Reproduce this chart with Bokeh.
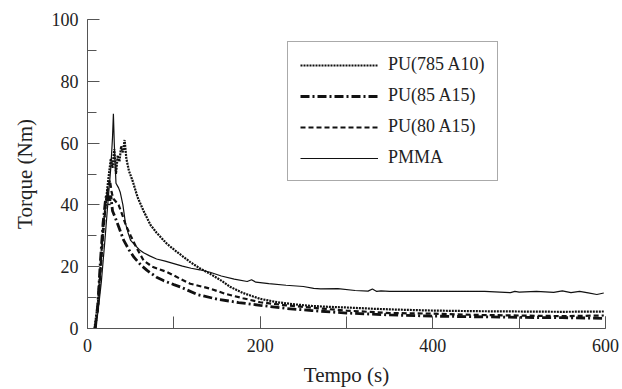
from bokeh.plotting import figure
from bokeh.models import Range1d, SingleIntervalTicker, Legend, LegendItem
from bokeh.embed import file_html
from bokeh.resources import INLINE

# PU(785 A10) - dotted
t_pu785 = [8, 12, 15, 18, 21, 24, 27, 29, 31, 33, 35, 37, 39, 41, 43, 45, 48, 52, 58, 65, 73, 80, 92, 104, 119,
           130, 142, 155, 165, 180, 200, 220, 240, 260, 280, 300, 330, 360, 400, 450, 500, 550, 598]
y_pu785 = [0, 8, 20, 32, 40, 48, 55, 52, 58, 50, 56, 54, 59, 57, 61, 55, 51, 48, 42.5, 38, 33.5, 31, 27.4, 24.7, 21.5,
           19.5, 17.7, 15.5, 13.5, 11.5, 9.6, 8.5, 7.8, 7.3, 7.0, 6.8, 6.4, 6.1, 5.8, 5.6, 5.5, 5.4, 5.5]

# PU(85 A15) - dash-dot
t_pu85 = [9, 12, 15, 18, 21, 23, 25, 27, 29, 32, 36, 42, 48, 54, 62, 69, 80, 88, 100, 108, 127, 150, 175, 200,
          230, 260, 300, 350, 400, 450, 500, 550, 598]
y_pu85 = [0, 8, 22, 34, 42, 44, 40, 43, 38, 36, 33, 28.5, 25.5, 23, 20.5, 18.8, 16.6, 15.5, 14.2, 13.4, 11, 9.5, 8.4, 7.5,
          6.5, 5.8, 5.0, 4.4, 4.0, 3.8, 3.6, 3.5, 3.3]

# PU(80 A15) - dashed
t_pu80 = [9, 12, 15, 18, 21, 24, 26, 28, 30, 33, 36, 40, 45, 50, 57, 65, 75, 92, 108, 119, 142, 160, 180, 200,
          230, 260, 300, 350, 400, 450, 500, 550, 598]
y_pu80 = [0, 6, 18, 30, 40, 46, 48, 44, 42, 41, 40, 37, 33, 30, 26, 22, 20, 18.3, 16, 14.5, 12.9, 11.2, 9.8, 8.5,
          7.5, 6.7, 5.8, 5.0, 4.8, 4.4, 4.2, 4.0, 4.2]

# PMMA - solid
t_pmma = [8, 12, 16, 20, 24, 27, 29, 30, 31, 33, 35, 36, 38, 41, 44, 47, 50, 55, 60, 65, 72, 80, 90, 100, 110, 120,
          130, 142, 155, 170, 185, 190, 195, 210, 230, 250, 262, 270, 290, 310, 325, 330, 335, 340, 350, 380, 420,
          460, 490, 495, 500, 520, 540, 550, 560, 570, 580, 590, 598]
y_pmma = [0, 5, 15, 28, 42, 52, 62, 69.5, 60, 47, 46, 45.5, 44, 40, 34, 31, 28.5, 27, 25.5, 24.5, 23.5, 22.5, 21.8,
          21, 20.2, 19.5, 19, 18.2, 17, 16, 15.2, 15.8, 15, 14.5, 14, 13.6, 13, 12.8, 12.9, 12.3, 12.1, 12.8, 12,
          12.2, 12, 12, 12, 12, 11.6, 12, 11.8, 12, 11.7, 12.2, 11.6, 12, 11.5, 11, 11.5]

labels = ["PU(785 A10)", "PU(85 A15)", "PU(80 A15)", "PMMA"]

FONT = "Times New Roman"
AXC = "#555555"

p = figure(width=622, height=389, output_backend="svg", toolbar_location=None,
           x_range=Range1d(0, 600), y_range=Range1d(0, 100),
           min_border_left=87, min_border_right=17, min_border_top=19, min_border_bottom=61)
p.outline_line_color = None
p.xgrid.grid_line_color = None
p.ygrid.grid_line_color = None
p.background_fill_color = "white"
p.border_fill_color = "white"

r1 = p.line(t_pu785, y_pu785, line_color="#111111", line_width=2.2, line_dash="2 1")
r2 = p.line(t_pu85, y_pu85, line_color="#111111", line_width=2.8, line_dash="9 3 2 3")
r3 = p.line(t_pu80, y_pu80, line_color="#111111", line_width=2.2, line_dash="5 3")
r4 = p.line(t_pmma, y_pmma, line_color="#111111", line_width=1.2)

p.xaxis.ticker = SingleIntervalTicker(interval=200, num_minor_ticks=2)
p.yaxis.ticker = SingleIntervalTicker(interval=20, num_minor_ticks=2)

for ax in (p.xaxis[0], p.yaxis[0]):
    ax.axis_line_color = AXC
    ax.major_tick_line_color = AXC
    ax.minor_tick_line_color = AXC
    ax.major_tick_out = 0
    ax.minor_tick_out = 0
    ax.major_tick_in = 12
    ax.major_label_text_font = FONT
    ax.major_label_text_font_size = "18px"
    ax.major_label_text_color = "#222222"
    ax.axis_label_text_font = FONT
    ax.axis_label_text_font_size = "21px"
    ax.axis_label_text_font_style = "normal"
    ax.axis_label_text_color = "#222222"

p.xaxis.minor_tick_in = 12
p.yaxis.minor_tick_in = 9
p.xaxis.major_label_standoff = 10
p.yaxis.major_label_standoff = 9
p.xaxis.axis_label = "Tempo (s)"
p.yaxis.axis_label = "Torque (Nm)"
p.xaxis.axis_label_standoff = 8
p.yaxis.axis_label_standoff = 12

legend = Legend(items=[LegendItem(label=labels[0], renderers=[r1]),
                       LegendItem(label=labels[1], renderers=[r2]),
                       LegendItem(label=labels[2], renderers=[r3]),
                       LegendItem(label=labels[3], renderers=[r4])],
                location=(200, 147))
legend.border_line_color = AXC
legend.border_line_width = 1
legend.background_fill_alpha = 1
legend.padding = 12
legend.margin = 0
legend.spacing = 10
legend.glyph_width = 78
legend.glyph_height = 20
legend.label_height = 20
legend.label_standoff = 10
legend.label_text_font = FONT
legend.label_text_font_size = "18px"
legend.label_text_color = "#222222"
p.add_layout(legend)

open("out.html", "w").write(file_html(p, INLINE))
